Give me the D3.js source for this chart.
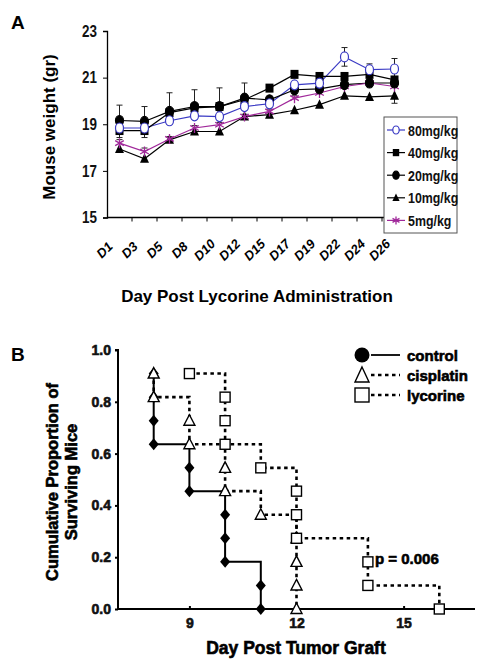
<!DOCTYPE html>
<html><head><meta charset="utf-8">
<script src="https://cdn.jsdelivr.net/npm/d3@7"></script>
<style>
body{margin:0;background:#fff;}
svg{display:block;}
</style></head>
<body>
<svg id="c" width="483" height="670"></svg>
<script>
// ---------- Panel A data ----------
const daysA = ["D1","D3","D5","D8","D10","D12","D15","D17","D19","D22","D24","D26"];
const yTicksA = [15,17,19,21,23];
const w80 = [18.84,18.84,19.15,19.36,19.33,19.76,19.88,20.69,20.76,21.89,21.34,21.37];
const w40 = [18.73,18.73,19.50,19.70,19.76,20.05,20.55,21.14,21.05,21.05,21.14,20.90];
const w20 = [19.16,19.12,19.55,19.76,19.76,20.12,20.05,20.48,20.52,20.70,20.77,20.77];
const w10 = [17.94,17.52,18.33,18.69,18.69,19.33,19.41,19.60,19.84,20.22,20.17,20.22];
const w5  = [18.19,17.83,18.37,18.84,18.98,19.33,19.55,20.12,20.34,20.62,20.77,20.62];
const e80 = [0,0,0,0,0,0,0,0,0,0.40,0.25,0.45];
const e40 = [0.30,0.30,0.10,0.10,0.10,0.10,0.10,0.10,0.10,0.10,0.10,0.10];
const e20 = [0.66,0.64,0.80,0.72,0.80,0.65,0.10,0.10,0.10,0.10,0.10,0.10];
const e10 = [0.12,0.12,0.10,0.10,0.10,0.10,0.10,0.10,0.10,0.10,0.10,0.32];
const e5  = [0.15,0.15,0.10,0.10,0.10,0.10,0.10,0.10,0.10,0.10,0.10,0.10];
const seriesNamesA = ["80mg/kg","40mg/kg","20mg/kg","10mg/kg","5mg/kg"];

// ---------- Panel B data ----------
const xTicksB = [9,12,15];
const yTicksB = [0.0,0.2,0.4,0.6,0.8,1.0];
const controlDays = [8,8,8,8,9,9,10,10,10,11,11];
const controlSurv = [0.909,0.818,0.727,0.636,0.545,0.455,0.364,0.273,0.182,0.091,0];
const cisplatinDays = [8,8,9,9,10,10,11,12,12,12,12];
const cisplatinSurv = [0.909,0.818,0.727,0.636,0.545,0.455,0.364,0.273,0.182,0.091,0];
const lycorineDays = [9,10,10,10,11,12,12,12,14,14,16];
const lycorineSurv = [0.909,0.818,0.727,0.636,0.545,0.455,0.364,0.273,0.182,0.091,0];
const seriesNamesB = ["control","cisplatin","lycorine"];
const pText = "p = 0.006";

const svg = d3.select("#c");
const sans = "'Liberation Sans',Arial,Helvetica,sans-serif";
const NARROW = 0.8;

// ================= PANEL A =================
const A = svg.append("g");
const xA = d3.scalePoint().domain(daysA).range([107,407]).padding(0.5);
const xAb = d3.scaleBand().domain(daysA).range([107,407]);
const yA = d3.scaleLinear().domain([15,23]).range([217.5,31]);

A.append("text").attr("x",11).attr("y",29).text("A")
 .attr("font-family",sans).attr("font-weight","bold").attr("font-size",19);

const yAxA = A.append("g").attr("transform","translate(107,0)")
 .call(d3.axisLeft(yA).tickValues(yTicksA).tickSize(4).tickPadding(5).tickFormat(d3.format("d")));
yAxA.select(".domain").attr("stroke","#000").attr("stroke-width",1.3);
yAxA.selectAll(".tick text").attr("font-family",sans).attr("font-weight","bold").attr("font-size",16).attr("fill","#111")
 .attr("x",-10/0.84).attr("transform","scale(0.84,1)");

// x axis
A.append("line").attr("x1",107).attr("x2",407).attr("y1",yA(15)).attr("y2",yA(15)).attr("stroke","#000").attr("stroke-width",1.3);
A.selectAll(".xt").data(daysA).enter().append("line")
 .attr("x1",d=>xAb(d)+xAb.bandwidth()).attr("x2",d=>xAb(d)+xAb.bandwidth())
 .attr("y1",yA(15)).attr("y2",yA(15)+4).attr("stroke","#000");
A.selectAll(".xl").data(daysA).enter().append("text")
 .attr("transform",d=>`translate(${xA(d)-15},${250}) rotate(-45)`)
 .attr("text-anchor","middle").attr("dominant-baseline","central")
 .attr("font-family",sans).attr("font-weight","bold").attr("font-style","italic").attr("font-size",13)
 .text(d=>d);

A.append("text").attr("transform","translate(55,127) rotate(-90)").attr("text-anchor","middle")
 .attr("font-family",sans).attr("font-weight","bold").attr("font-size",17).text("Mouse weight (gr)");
A.append("text").attr("x",257).attr("y",302).attr("text-anchor","middle")
 .attr("font-family",sans).attr("font-weight","bold").attr("font-size",17).text("Day Post Lycorine Administration");

const seriesA = [
  {name:seriesNamesA[0], v:w80, e:e80, dir:"both", color:"#3a3ac4", sym:"circle", fill:"#fff"},
  {name:seriesNamesA[1], v:w40, e:e40, dir:"down", color:"#000", sym:"square", fill:"#000"},
  {name:seriesNamesA[2], v:w20, e:e20, dir:"up", color:"#000", sym:"circle", fill:"#000"},
  {name:seriesNamesA[3], v:w10, e:e10, dir:"down", color:"#000", sym:"triangle", fill:"#000"},
  {name:seriesNamesA[4], v:w5, e:e5, dir:"up", color:"#a0289a", sym:"star", fill:"none"}
];
function markerA(g, s, x, y, scale){
  scale = scale||1;
  if(s.sym==="circle"){
    g.append("ellipse").attr("cx",x).attr("cy",y).attr("rx",4*scale).attr("ry",5*scale)
     .attr("fill",s.fill).attr("stroke",s.fill==="#fff"?s.color:"#000").attr("stroke-width",1.2);
  } else if(s.sym==="square"){
    g.append("rect").attr("x",x-4*scale).attr("y",y-4.5*scale).attr("width",8*scale).attr("height",9*scale).attr("fill","#000");
  } else if(s.sym==="triangle"){
    g.append("path").attr("d",`M${x},${y-5.5*scale}L${x+4.5*scale},${y+4*scale}L${x-4.5*scale},${y+4*scale}Z`).attr("fill","#000");
  } else {
    g.append("path").attr("transform",`translate(${x},${y})`)
     .attr("d",d3.symbol().type(d3.symbolAsterisk).size(70*scale*scale)()).attr("stroke",s.color).attr("stroke-width",1.3).attr("fill","none");
  }
}
// error bars
seriesA.forEach(s=>{
  s.v.forEach((v,i)=>{
    const e=s.e[i]; if(!e) return;
    const x=xA(daysA[i]);
    const segs=[];
    if(s.dir!=="down") segs.push(v+e);
    if(s.dir!=="up") segs.push(v-e);
    segs.forEach(t=>{
      A.append("line").attr("x1",x).attr("x2",x).attr("y1",yA(v)).attr("y2",yA(t)).attr("stroke","#222").attr("stroke-width",1);
      A.append("line").attr("x1",x-3).attr("x2",x+3).attr("y1",yA(t)).attr("y2",yA(t)).attr("stroke","#222").attr("stroke-width",1);
    });
  });
});
const lineA = d3.line().x((d,i)=>xA(daysA[i])).y(d=>yA(d));
seriesA.forEach(s=>{
  A.append("path").attr("d",lineA(s.v)).attr("fill","none").attr("stroke",s.color).attr("stroke-width",1.2);
});
[1,3,4,2,0].forEach(k=>{
  const s=seriesA[k];
  s.v.forEach((v,i)=>markerA(A,s,xA(daysA[i]),yA(v)));
});

// legend A
const LA = A.append("g");
LA.append("rect").attr("x",384).attr("y",117).attr("width",73).attr("height",116)
 .attr("fill","#fff").attr("stroke","#555").attr("stroke-width",1);
seriesA.forEach((s,i)=>{
  const y=130+i*22.6;
  LA.append("line").attr("x1",387).attr("x2",405).attr("y1",y).attr("y2",y).attr("stroke",s.color).attr("stroke-width",1.2);
  markerA(LA,s,396,y,0.8);
  LA.append("text").attr("transform",`translate(408,${y}) scale(${NARROW},1)`).attr("dominant-baseline","central")
   .attr("font-family",sans).attr("font-weight","bold").attr("font-size",15.5).attr("fill","#111").text(s.name);
});

// ================= PANEL B =================
const B = svg.append("g");
const xB = d3.scaleLinear().domain([7,17]).range([118,475]);
const yB = d3.scaleLinear().domain([0,1]).range([609,350]);

B.append("text").attr("x",11).attr("y",361).text("B")
 .attr("font-family",sans).attr("font-weight","bold").attr("font-size",19);

const yAxB = B.append("g").attr("transform","translate(118,0)")
 .call(d3.axisLeft(yB).tickValues(yTicksB).tickSize(3).tickPadding(4).tickFormat(d3.format(".1f")));
yAxB.select(".domain").attr("stroke","#000").attr("stroke-width",2).attr("d","M-3,350H0V609");
yAxB.selectAll(".tick line").attr("stroke-width",2);
yAxB.selectAll("text").attr("font-family",sans).attr("font-weight","900").attr("font-size",14).attr("fill","#111")
 .attr("stroke","#111").attr("stroke-width",0.6);

const xAxB = B.append("g").attr("transform","translate(0,609)")
 .call(d3.axisBottom(xB).tickValues(xTicksB).tickSize(-3).tickPadding(9).tickFormat(d3.format("d")));
xAxB.select(".domain").attr("stroke","#000").attr("stroke-width",2).attr("d","M118,0H475");
xAxB.selectAll(".tick line").attr("stroke-width",2);
xAxB.selectAll("text").attr("font-family",sans).attr("font-weight","bold").attr("font-size",14).attr("fill","#111")
 .attr("stroke","#111").attr("stroke-width",0.6);

B.append("text").attr("x",296).attr("y",654).attr("text-anchor","middle")
 .attr("font-family",sans).attr("font-weight","bold").attr("font-size",17.5).attr("stroke","#000").attr("stroke-width",0.6)
 .text("Day Post Tumor Graft");
const yt = B.append("text").attr("transform","translate(61,482) rotate(-90)").attr("text-anchor","middle")
 .attr("font-family",sans).attr("font-weight","bold").attr("font-size",16.5).attr("stroke","#000").attr("stroke-width",0.6);
yt.append("tspan").attr("x",0).attr("dy",-3).text("Cumulative Proportion of");
yt.append("tspan").attr("x",0).attr("dy",19).text("Surviving Mice");

function stepPath(days, surv){
  let p = `M${xB(days[0])},${yB(surv[0])}`;
  for(let i=1;i<days.length;i++){
    if(days[i]!==days[i-1]) p += `H${xB(days[i])}`;
    p += `V${yB(surv[i])}`;
  }
  return p;
}
function markerB(g, type, x, y){
  if(type==="diamond"){
    g.append("path").attr("d",`M${x},${y-6}L${x+5},${y}L${x},${y+6}L${x-5},${y}Z`).attr("fill","#000");
  } else if(type==="circle"){
    g.append("circle").attr("cx",x).attr("cy",y).attr("r",7.5).attr("fill","#000");
  } else if(type==="triangle"){
    g.append("path").attr("d",`M${x},${y-6}L${x+5.5},${y+4.5}L${x-5.5},${y+4.5}Z`).attr("fill","#fff").attr("stroke","#000").attr("stroke-width",1.4);
  } else if(type==="bigtriangle"){
    g.append("path").attr("d",`M${x},${y-8}L${x+7},${y+7}L${x-7},${y+7}Z`).attr("fill","#fff").attr("stroke","#000").attr("stroke-width",1.4);
  } else {
    g.append("rect").attr("x",x-5).attr("y",y-5).attr("width",10).attr("height",10).attr("fill","#fff").attr("stroke","#000").attr("stroke-width",1.4);
  }
}
const seriesB = [
  {days:controlDays, surv:controlSurv, mk:"diamond", dash:null, w:2},
  {days:cisplatinDays, surv:cisplatinSurv, mk:"triangle", dash:"3.5,3.5", w:2.6},
  {days:lycorineDays, surv:lycorineSurv, mk:"square", dash:"3.5,3.5", w:2.6}
];
seriesB.forEach(s=>{
  B.append("path").attr("d",stepPath(s.days,s.surv)).attr("fill","none").attr("stroke","#000")
   .attr("stroke-width",s.w).attr("stroke-dasharray",s.dash);
});
seriesB.forEach(s=>{
  s.days.forEach((d,i)=>markerB(B,s.mk,xB(d),yB(s.surv[i])));
});

// legend B
const LB = B.append("g");
seriesNamesB.forEach((n,i)=>{
  const y=355+i*20;
  if(i===0) markerB(LB,"circle",362,y);
  else if(i===1) markerB(LB,"bigtriangle",362,y);
  else LB.append("rect").attr("x",355).attr("y",y-7).attr("width",14).attr("height",14).attr("fill","#fff").attr("stroke","#000").attr("stroke-width",1.4);
  LB.append("line").attr("x1",371).attr("x2",400).attr("y1",y).attr("y2",y).attr("stroke","#000")
   .attr("stroke-width",i===0?1.8:2.6).attr("stroke-dasharray",i===0?null:"3.5,3.5");
  LB.append("text").attr("x",407).attr("y",y).attr("dominant-baseline","central")
   .attr("font-family",sans).attr("font-weight","bold").attr("font-size",15).attr("stroke","#000").attr("stroke-width",0.6).text(n);
});
B.append("text").attr("x",375).attr("y",564).attr("font-family",sans).attr("font-weight","bold")
 .attr("font-size",15).attr("stroke","#000").attr("stroke-width",0.6).text(pText);
</script>
</body></html>
